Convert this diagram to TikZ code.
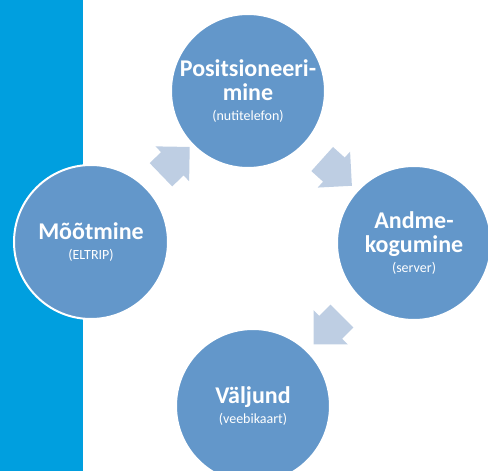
\documentclass[tikz,border=0pt]{standalone}
\usepackage{fontspec}
\setmainfont{Carlito}
\usetikzlibrary{shapes.arrows,calc}
\definecolor{barblue}{RGB}{0,159,223}
\definecolor{stepblue}{RGB}{99,151,202}
\definecolor{flowgray}{RGB}{190,206,227}
\tikzset{
  stepnode/.style={circle,fill=stepblue,draw=white,line width=2pt,minimum size=154pt,inner sep=0pt,
    text=white,align=center,font=\fontsize{24}{24}\selectfont\bfseries},
  flow/.style={single arrow,fill=flowgray,draw=none,inner xsep=0pt,inner ysep=16pt,
    minimum height=40pt,single arrow head extend=8pt,single arrow tip angle=90},
}
\newcommand{\sub}[1]{\\[-4pt]{\fontsize{14}{14}\selectfont\mdseries #1}}
\begin{document}
\begin{tikzpicture}[x=1pt,y=1pt]
\clip (0,0) rectangle (488,471);
\fill[barblue] (0,0) rectangle (83,471);
\node[stepnode] (pos) at (248,380) {Positsioneeri-\\mine\sub{(nutitelefon)}};
\node[stepnode] (meas) at (91,229) {Mõõtmine\sub{(ELTRIP)}};
\node[stepnode] (data) at (414,228) {Andme-\\kogumine\sub{(server)}};
\node[stepnode] (out) at (253,65) {Väljund\sub{(veebikaart)}};
\node[flow,rotate=44] (a1) at ($(meas)!0.5!(pos)$) {};
\node[flow,rotate=-42] (a2) at ($(pos)!0.5!(data)$) {};
\node[flow,rotate=-135] (a3) at ($(data)!0.5!(out)$) {};
\end{tikzpicture}
\end{document}
